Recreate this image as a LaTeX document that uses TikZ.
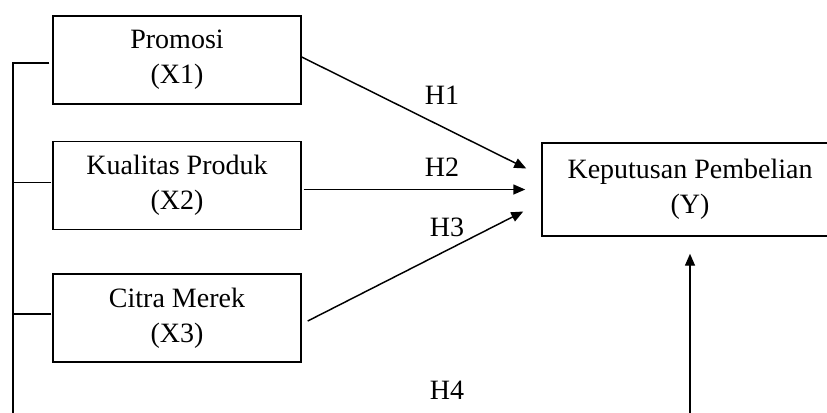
\documentclass[tikz,border=0pt]{standalone}
\usepackage{fontspec}
\setmainfont{Liberation Serif}
\usetikzlibrary{arrows.meta,calc}

\tikzset{
    varbox/.style={draw, line width=1.1pt, align=center, minimum width=186pt, minimum height=66pt,
        font=\fontsize{21}{26.25}\selectfont},
    hlabel/.style={font=\fontsize{21}{26.25}\selectfont, inner sep=0pt},
    harrow/.style={line width=1.1pt, -{Triangle[length=9pt, width=7.5pt]}},
    busline/.style={line width=1.1pt}
}

\begin{document}
\begin{tikzpicture}[x=0.75pt, y=-0.75pt]
        \useasboundingbox (0,0) rectangle (827,412);

        \node[varbox] (promosi) at (177,60) {Promosi\\(X1)};
        \node[varbox] (kualitas) at (177,185.5) {Kualitas Produk\\(X2)};
        \node[varbox] (citra) at (177,318) {Citra Merek\\(X3)};
        \node[varbox, minimum width=222pt, minimum height=69.75pt] (keputusan) at (690,189.5) {Keputusan Pembelian\\(Y)};

        \node[hlabel] (h1) at (442,95) {H1};
        \node[hlabel] (h2) at (442,167) {H2};
        \node[hlabel] (h3) at (447,227) {H3};
        \node[hlabel] (h4) at (447,390) {H4};

        \coordinate (busend) at (13,420);
        \coordinate (yin) at (690,420);
        \coordinate (s2) at (kualitas.east |- keputusan.west);
        \coordinate (t2) at ($(kualitas.west)+(-1,-3)$);
        \coordinate (t3) at ($(citra.west)+(-1,-4)$);

        \draw[harrow] ($(promosi.east)+(0,-3)$) -- ($(keputusan.west)+(-15,-21)$);
        \draw[harrow] ($(s2)+(2,0)$) -- ($(keputusan.west)+(-16,0)$);
        \draw[harrow] ($(citra.east)+(6,3)$) -- ($(keputusan.west)+(-18,22)$);
        \draw[harrow] (yin) -- ($(keputusan.south)+(0,17)$);

        \draw[busline] ($(promosi.west)+(-3,3)$) -| (busend);
        \draw[busline] (t2) -- (t2 -| busend);
        \draw[busline] (t3) -- (t3 -| busend);
    \end{tikzpicture}
\end{document}
